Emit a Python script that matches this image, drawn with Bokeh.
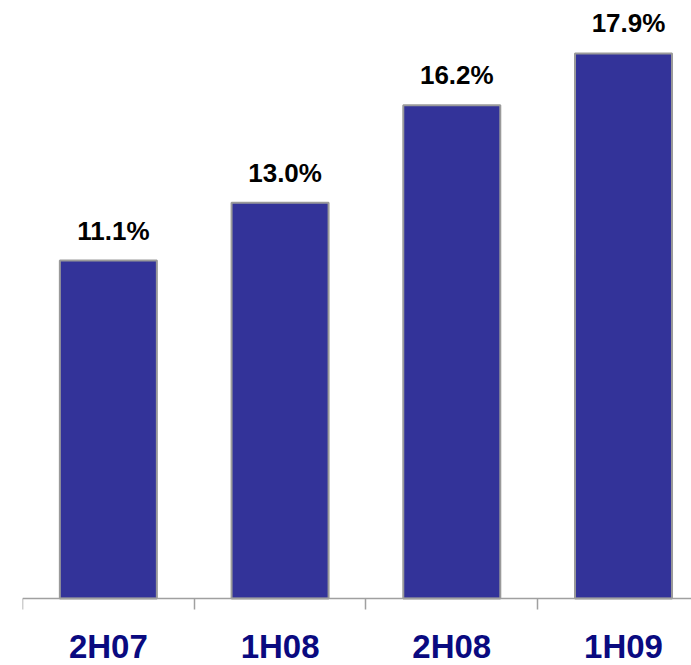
import numpy as np
from bokeh.plotting import figure
from bokeh.models import ColumnDataSource, Range1d, FixedTicker
from bokeh.core.properties import value
from bokeh.embed import file_html
from bokeh.resources import INLINE

categories = ["2H07", "1H08", "2H08", "1H09"]
values = [11.1, 13.0, 16.2, 17.9]
value_labels = ["11.1%", "13.0%", "16.2%", "17.9%"]

xpos = [i + 0.5 for i in range(len(categories))]
src = ColumnDataSource(dict(x=xpos, top=values, label=value_labels))

p = figure(width=691, height=665, output_backend="svg", toolbar_location=None,
           x_range=Range1d(0, 3.896), y_range=Range1d(-2.2, 19.64),
           min_border_left=22, min_border_right=0, min_border_top=0, min_border_bottom=0)

p.vbar(x="x", top="top", bottom=0, width=0.565, source=src,
       fill_color="#333399", line_color="#9a9a9a", line_width=2)

p.text(x="x", y="top", text="label", source=src,
       text_font=value("Liberation Sans"), text_font_style="bold",
       text_font_size="26px", text_color="#000000",
       text_align="center", text_baseline="bottom", x_offset=5, y_offset=-15)

p.yaxis.visible = False
p.xgrid.visible = False
p.ygrid.visible = False
p.outline_line_color = None
p.background_fill_color = "white"
p.border_fill_color = "white"

ax = p.xaxis[0]
ax.fixed_location = 0
ax.ticker = FixedTicker(ticks=xpos, minor_ticks=list(range(len(categories))))
ax.major_label_overrides = {x: c for x, c in zip(xpos, categories)}
ax.major_tick_out = 0
ax.major_tick_in = 0
ax.minor_tick_out = 11
ax.minor_tick_in = 0
ax.minor_tick_line_color = "#a0a0a0"
ax.minor_tick_line_width = 1.5
ax.axis_line_color = "#a0a0a0"
ax.axis_line_width = 1.5
ax.major_label_text_font = "Liberation Sans"
ax.major_label_text_font_style = "bold"
ax.major_label_text_font_size = "33px"
ax.major_label_text_color = "#0a0a80"
ax.major_label_standoff = 18

open("out.html", "w").write(file_html(p, INLINE))
